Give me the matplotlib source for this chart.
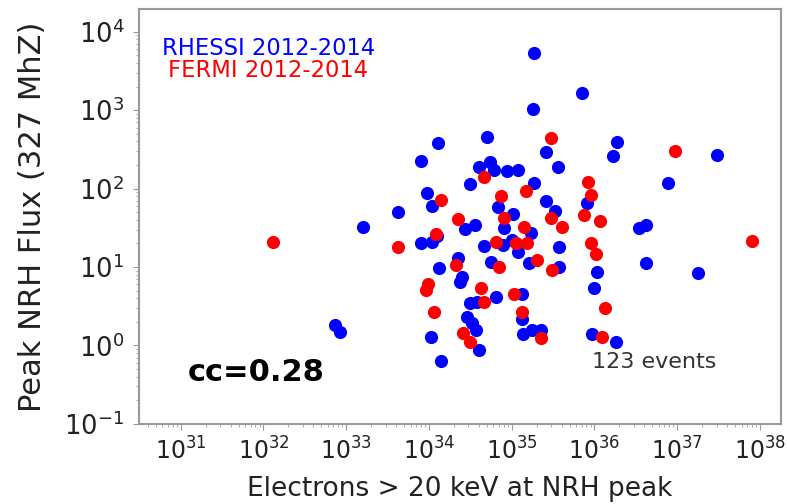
import matplotlib
matplotlib.use("Agg")
import matplotlib.pyplot as plt
import numpy as np

# log10 values
rhessi_log_e = [35.27, 35.85, 35.26, 34.11, 33.90, 34.70, 34.61, 34.74, 34.79, 34.94,
                35.07, 34.50, 33.98, 35.41, 36.27, 36.22, 35.56, 35.27, 35.41, 37.48,
                36.89, 35.91, 34.84, 35.52, 35.02, 34.04, 33.63, 34.56, 34.43, 34.91,
                35.23, 36.54, 36.62, 33.20, 33.90, 34.04, 34.10, 34.67, 34.90, 35.00,
                35.07, 35.57, 34.35, 34.12, 34.75, 35.21, 35.57, 36.03, 36.62, 37.25,
                34.40, 34.37, 35.99, 34.81, 35.13, 34.49, 34.58, 34.46, 35.13, 34.52,
                34.57, 34.02, 35.14, 35.25, 35.35, 35.97, 36.26, 34.61, 34.15, 32.86,
                32.92]
rhessi_log_flux = [3.73, 3.22, 3.01, 2.58, 2.35, 2.66, 2.28, 2.34, 2.24, 2.23,
                   2.24, 2.06, 1.95, 2.47, 2.60, 2.41, 2.27, 2.07, 1.84, 2.43,
                   2.07, 1.82, 1.76, 1.72, 1.68, 1.78, 1.70, 1.54, 1.49, 1.50,
                   1.44, 1.50, 1.54, 1.51, 1.31, 1.32, 1.39, 1.27, 1.28, 1.35,
                   1.19, 1.26, 1.12, 0.99, 1.07, 1.05, 1.00, 0.94, 1.05, 0.93,
                   0.87, 0.81, 0.73, 0.62, 0.65, 0.54, 0.56, 0.36, 0.34, 0.28,
                   0.20, 0.11, 0.14, 0.20, 0.20, 0.14, 0.05, -0.06, -0.20, 0.26,
                   0.17]

fermi_log_e = [35.48, 36.97, 34.67, 34.15, 34.87, 35.17, 35.92, 35.96, 35.87, 36.07,
               34.35, 35.48, 35.15, 35.61, 34.09, 33.63, 34.81, 35.05, 35.19, 35.96,
               37.90, 32.11, 34.33, 35.31, 34.85, 35.49, 36.02, 33.99, 33.97, 34.63,
               35.03, 34.67, 34.06, 35.13, 36.13, 34.41, 34.49, 35.35, 36.09, 34.91]
fermi_log_flux = [2.64, 2.48, 2.15, 1.86, 1.90, 1.97, 2.09, 1.92, 1.67, 1.59,
                  1.61, 1.63, 1.51, 1.51, 1.42, 1.26, 1.32, 1.31, 1.31, 1.31,
                  1.33, 1.32, 1.03, 1.09, 1.00, 0.96, 1.16, 0.79, 0.71, 0.73,
                  0.65, 0.56, 0.43, 0.43, 0.48, 0.16, 0.05, 0.10, 0.11, 1.63]

cc_text = "cc=0.28"
n_events_text = "123 events"

fig = plt.figure(figsize=(7.87, 5.04), dpi=100)
ax = fig.add_axes([0.177, 0.159, 0.815, 0.823])

ax.scatter(10 ** np.array(rhessi_log_e), 10 ** np.array(rhessi_log_flux),
           s=90, color="blue", linewidths=0, zorder=3)
ax.scatter(10 ** np.array(fermi_log_e), 10 ** np.array(fermi_log_flux),
           s=90, color="red", linewidths=0, zorder=3)

ax.set_xscale("log")
ax.set_yscale("log")
ax.set_xlim(10 ** 30.5, 10 ** 38.25)
ax.set_ylim(0.1, 10 ** 4.29)
ax.set_xticks([10.0 ** k for k in range(31, 39)])
ax.set_yticks([10.0 ** k for k in range(-1, 5)])

for sp in ax.spines.values():
    sp.set_color("#999999")
    sp.set_linewidth(1.5)
ax.tick_params(which="both", color="#999999", labelcolor="#222222")
ax.tick_params(which="major", length=4)
ax.tick_params(axis="x", which="major", labelsize=17, pad=6)
ax.tick_params(axis="y", which="major", labelsize=18.5, pad=7)
ax.tick_params(which="minor", length=2.5)

ax.set_xlabel("Electrons > 20 keV at NRH peak", fontsize=19, color="#222222",
              labelpad=8)
ax.set_ylabel("Peak NRH Flux (327 MhZ)", fontsize=22, color="#222222", labelpad=12)

ax.text(0.036, 0.906, "RHESSI 2012-2014", transform=ax.transAxes, color="blue",
        fontsize=16.3, va="center")
ax.text(0.045, 0.853, "FERMI 2012-2014", transform=ax.transAxes, color="red",
        fontsize=16.3, va="center")
ax.text(0.076, 0.125, cc_text, transform=ax.transAxes, fontsize=22,
        fontweight="bold", va="center")
ax.text(0.706, 0.149, n_events_text, transform=ax.transAxes, fontsize=16,
        color="#333333", va="center")

fig.savefig("out.png", dpi=100)
